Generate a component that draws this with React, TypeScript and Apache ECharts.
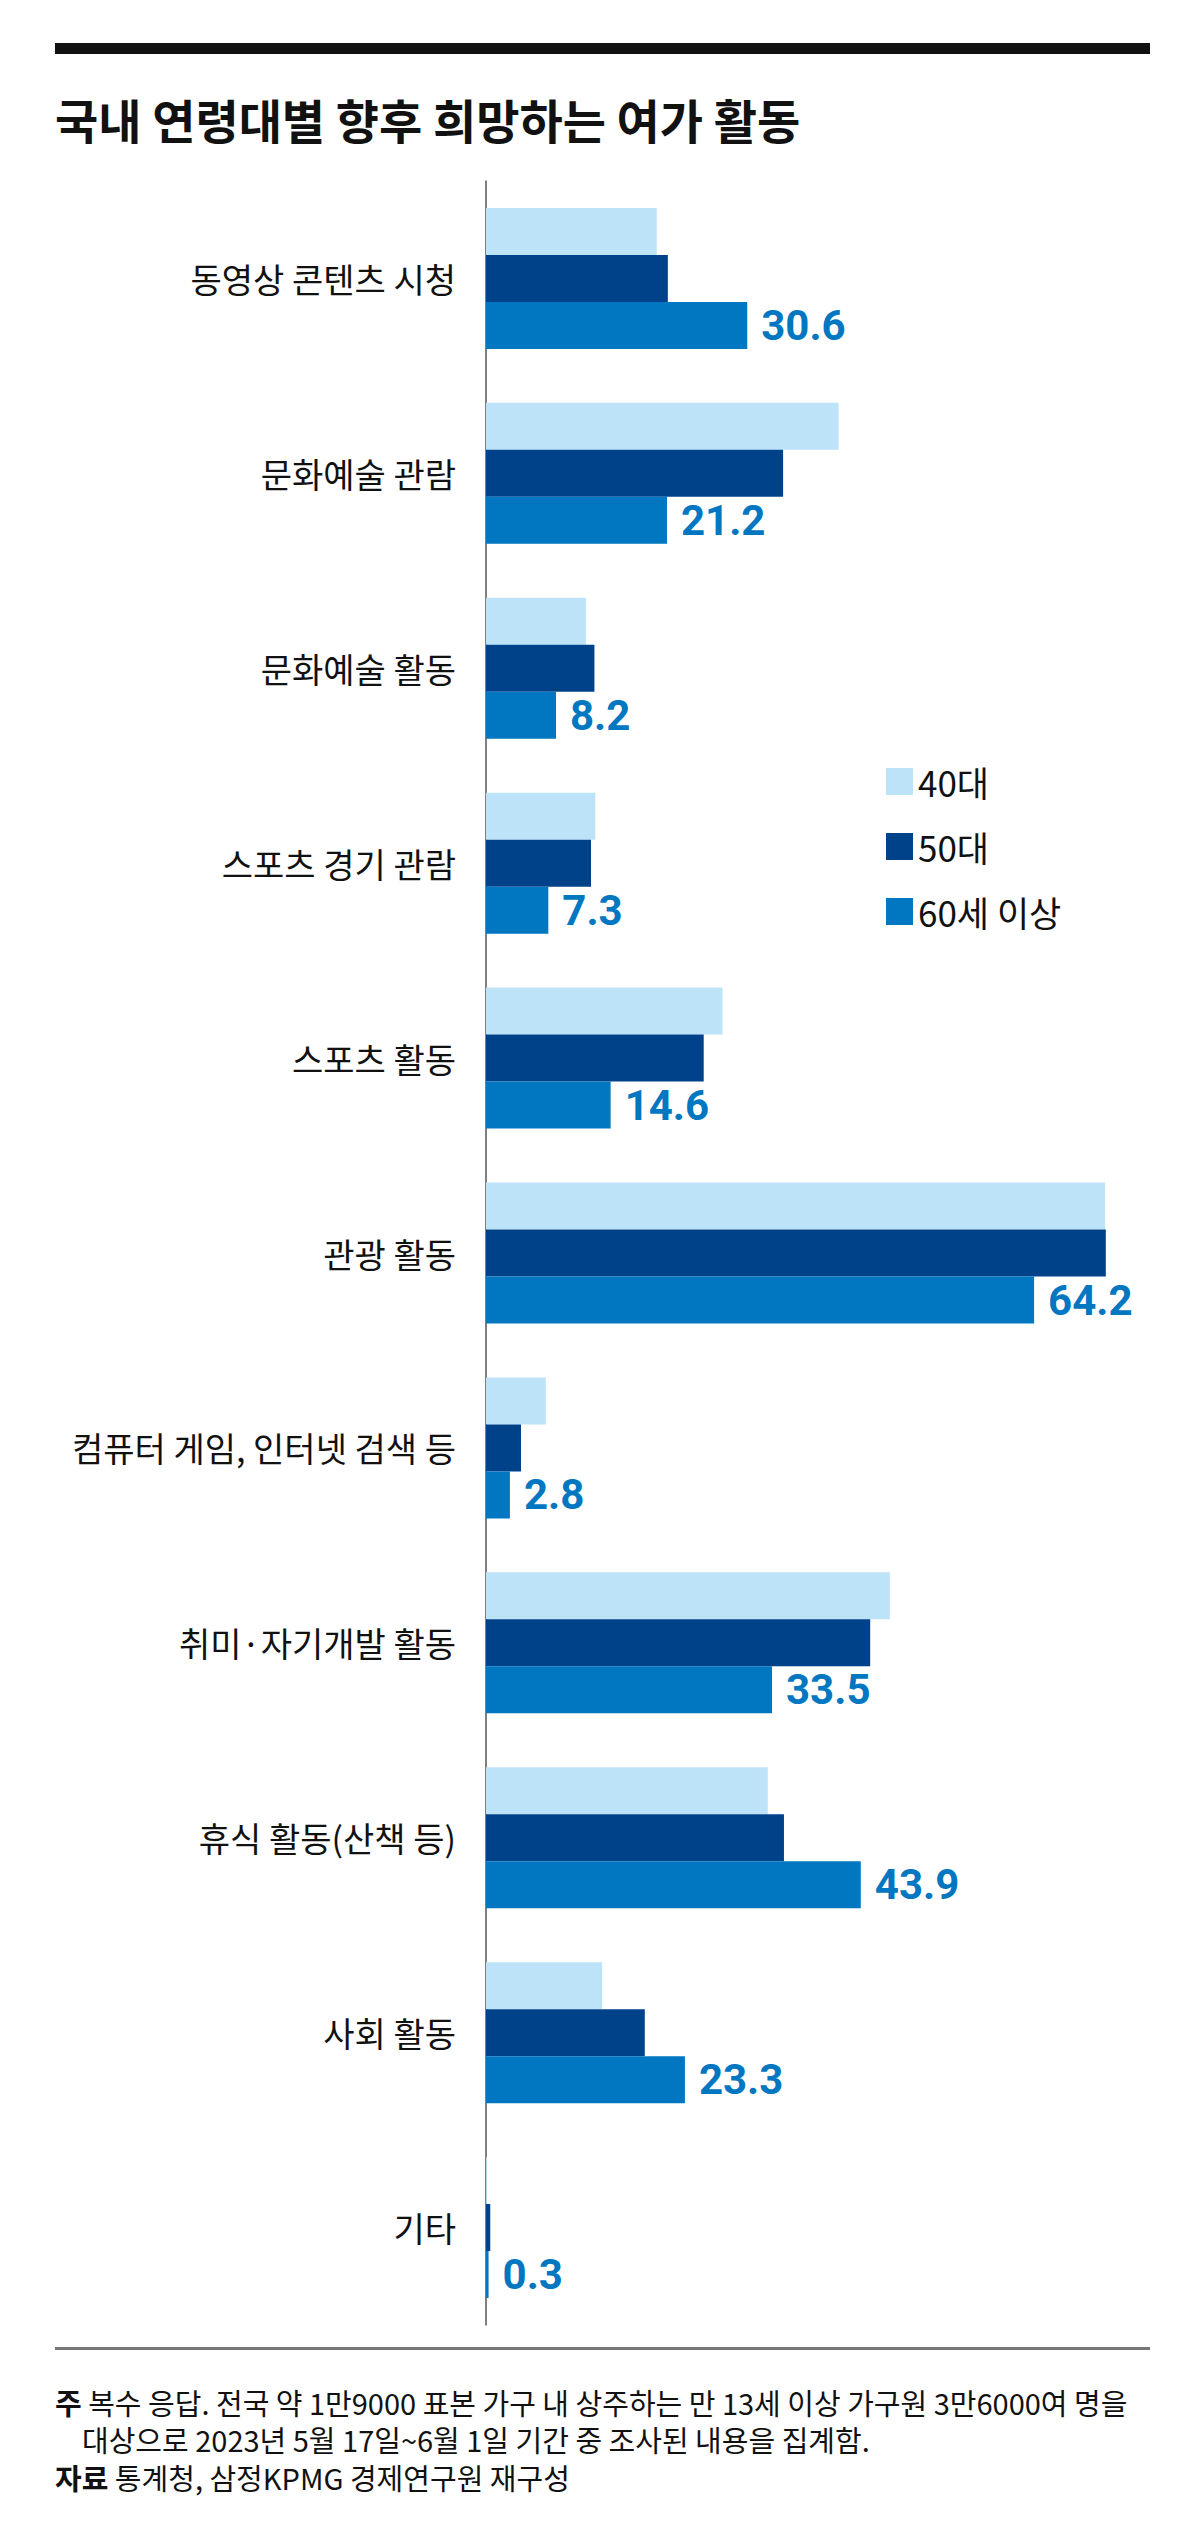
import React, { useEffect, useRef } from 'react';
import * as echarts from 'echarts';

const categories = [
  '동영상 콘텐츠 시청',
  '문화예술 관람',
  '문화예술 활동',
  '스포츠 경기 관람',
  '스포츠 활동',
  '관광 활동',
  '컴퓨터 게임, 인터넷 검색 등',
  '취미·자기개발 활동',
  '휴식 활동(산책 등)',
  '사회 활동',
  '기타',
];
const seriesNames = ['40대', '50대', '60세 이상'];
const values40 = [20.0, 41.3, 11.7, 12.8, 27.7, 72.5, 7.0, 47.3, 33.0, 13.6, 0.1];
const values50 = [21.3, 34.8, 12.7, 12.3, 25.5, 72.6, 4.1, 45.0, 34.9, 18.6, 0.5];
const values60 = [30.6, 21.2, 8.2, 7.3, 14.6, 64.2, 2.8, 33.5, 43.9, 23.3, 0.3];
const colors = ['#bde3f8', '#00428a', '#0077c0'];

const titleText = '국내 연령대별 향후 희망하는 여가 활동';
const noteLine1 = '{b|주} {n|복수 응답. 전국 약 1만9000 표본 가구 내 상주하는 만 13세 이상 가구원 3만6000여 명을}';
const noteLine2 = '대상으로 2023년 5월 17일~6월 1일 기간 중 조사된 내용을 집계함.';
const sourceLine = '{b|자료} {n|통계청, 삼정KPMG 경제연구원 재구성}';

const KR = "'Noto Sans CJK KR', 'Noto Sans', sans-serif";
const NUM = "'Liberation Sans Narrow', 'Roboto', sans-serif";

export default function App() {
  const ref = useRef<HTMLDivElement>(null);
  useEffect(() => {
    if (!ref.current) return;
    const chart = echarts.init(ref.current, null, { renderer: 'svg', width: 1200, height: 2546 });
    const rich = {
      b: { fontSize: 29, fontWeight: 'bold', fontFamily: KR, fill: '#111', color: '#111' },
      n: { fontSize: 29, fontWeight: 'normal', fontFamily: KR, fill: '#111', color: '#111' },
    };
    const mk = (name: string, data: number[], i: number, label: boolean) => ({
      name,
      type: 'bar',
      data,
      barWidth: 47,
      barGap: '0%',
      itemStyle: { color: colors[i] },
      label: label
        ? {
            show: true,
            position: 'right',
            distance: 14,
            color: colors[2],
            fontSize: 42,
            fontWeight: 'bold',
            fontFamily: NUM,
            formatter: (p: any) => p.value.toFixed(1),
          }
        : { show: false },
    });
    chart.setOption({
      animation: false,
      backgroundColor: '#fff',
      grid: { left: 486, top: 181, width: 683, height: 2144, containLabel: false },
      xAxis: {
        type: 'value',
        min: 0,
        max: 80,
        show: false,
        splitLine: { show: false },
      },
      yAxis: {
        type: 'category',
        data: categories,
        inverse: true,
        axisLine: { show: true, lineStyle: { color: '#555', width: 1.5 } },
        axisTick: { show: false },
        axisLabel: { fontSize: 34, color: '#111', fontFamily: KR, margin: 30 },
      },
      legend: {
        data: seriesNames,
        orient: 'vertical',
        left: 886,
        top: 764,
        itemWidth: 27,
        itemHeight: 27,
        itemGap: 30,
        itemTextGap: 12,
        padding: 0,
        icon: 'rect',
        textStyle: { fontSize: 35, color: '#111', fontFamily: KR, lineHeight: 27 },
      },
      series: [
        mk(seriesNames[0], values40, 0, false),
        mk(seriesNames[1], values50, 1, false),
        mk(seriesNames[2], values60, 2, true),
      ],
      graphic: [
        { type: 'rect', shape: { x: 55, y: 43, width: 1095, height: 11 }, style: { fill: '#111' } },
        {
          type: 'text',
          x: 55,
          y: 118,
          style: { text: titleText, fontSize: 47, fontWeight: 'bold', fontFamily: KR, fill: '#111', verticalAlign: 'middle' },
        },
        { type: 'rect', shape: { x: 55, y: 2347, width: 1095, height: 3 }, style: { fill: '#777' } },
        {
          type: 'text',
          x: 55,
          y: 2402,
          style: { text: noteLine1, rich, fontSize: 29, fontFamily: KR, fill: '#111', verticalAlign: 'middle' },
        },
        {
          type: 'text',
          x: 82,
          y: 2439,
          style: { text: noteLine2, fontSize: 29, fontFamily: KR, fill: '#111', verticalAlign: 'middle' },
        },
        {
          type: 'text',
          x: 55,
          y: 2477,
          style: { text: sourceLine, rich, fontSize: 29, fontFamily: KR, fill: '#111', verticalAlign: 'middle' },
        },
      ],
    });
    return () => chart.dispose();
  }, []);
  return (
    <div
      ref={ref}
      style={{ position: 'absolute', left: 0, top: 0, width: 1200, height: 2546, background: '#fff' }}
    />
  );
}
